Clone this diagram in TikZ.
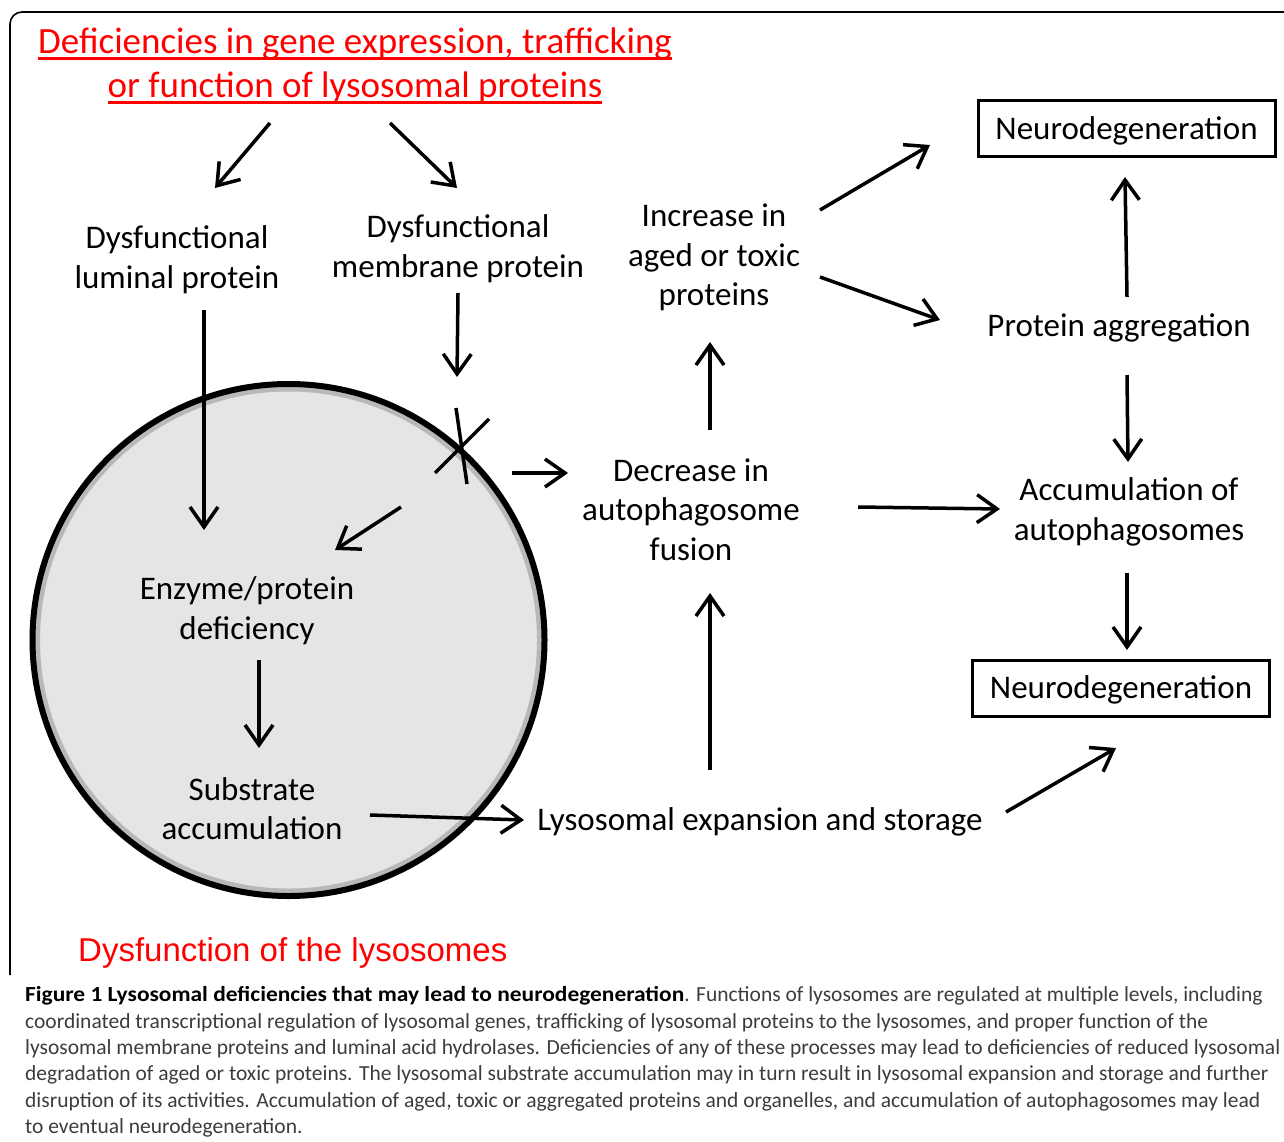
\documentclass[tikz,border=0pt]{standalone}
\usepackage{fontspec}
\setmainfont{Carlito}
\newfontfamily\arialf{Liberation Sans}
\usetikzlibrary{arrows.meta}
\definecolor{redt}{RGB}{255,0,0}
\definecolor{lysofill}{RGB}{229,229,229}
\definecolor{captext}{RGB}{60,60,60}
\newcommand{\redul}[1]{\setbox0\hbox{#1}\rlap{\rule[-6pt]{\wd0}{2.4pt}}\box0}
\begin{document}
\begin{tikzpicture}[x=1pt,y=-1pt,
  lbl/.style={font=\fontsize{33}{39.5}\selectfont, align=center, inner sep=0pt},
  redtitle/.style={font=\fontsize{37}{44}\selectfont, align=center, inner sep=0pt, text=redt},
  ndbox/.style={draw, line width=3pt, font=\fontsize{33}{39.5}\selectfont, minimum width=297pt, minimum height=56pt, inner sep=0pt, text height=25pt, text depth=4pt},
  arr/.style={line width=3.5pt, -{Straight Barb[length=20pt,width=28pt,line width=3.5pt]}},
  cross/.style={line width=3.5pt}
]
\useasboundingbox (0,0) rectangle (1284,1142);
% outer frame (open at right and bottom)
\draw[line width=1.6pt, rounded corners=12pt] (10,975) -- (10,12) -- (1290,12);

% lysosome
\fill[lysofill] (288.5,640) circle (256);
\draw[black!45, line width=5pt, opacity=0.5] (288.5,640) circle (251);
\draw[line width=6pt] (288.5,640) circle (256);

% title
\node[redtitle] (title) at (355,66) {\redul{Deficiencies in gene expression, trafficking}\\\redul{or function of lysosomal proteins}};

% nodes
\node[lbl] (lum) at (177,259.5) {Dysfunctional\\luminal protein};
\node[lbl] (mem) at (458,248.5) {Dysfunctional\\membrane protein};
\node[lbl] (inc) at (714,257.5) {Increase in\\aged or toxic\\proteins};
\node[ndbox] (nd1) at (1126.5,129) {Neurodegeneration};
\node[lbl] (agg) at (1119,328) {Protein aggregation};
\node[lbl] (dec) at (691,509.5) {Decrease in\\autophagosome\\fusion};
\node[lbl] (acc) at (1129,512) {Accumulation of\\autophagosomes};
\node[ndbox] (nd2) at (1121,688) {Neurodegeneration};
\node[lbl] (enz) at (247,610.5) {Enzyme/protein\\deficiency};
\node[lbl] (sub) at (252,808.5) {Substrate\\accumulation};
\node[lbl] (exp) at (760,822) {Lysosomal expansion and storage};
\node[font=\arialf\fontsize{33}{40}\selectfont, text=redt, inner sep=0pt, anchor=west] (dys) at (78,953) {Dysfunction of the lysosomes};

% caption
\node[font=\fontsize{21.5}{26.3}\selectfont, text=captext, align=left, inner sep=0pt, anchor=west] (cap) at (25,1062)
{\textcolor{black}{\textbf{\addfontfeature{FakeStretch=1.09}Figure 1 Lysosomal deficiencies that may lead to neurodegeneration}}. Functions of lysosomes are regulated at multiple levels, including\\
coordinated transcriptional regulation of lysosomal genes, trafficking of lysosomal proteins to the lysosomes, and proper function of the\\
lysosomal membrane proteins and luminal acid hydrolases. Deficiencies of any of these processes may lead to deficiencies of reduced lysosomal\\
degradation of aged or toxic proteins. The lysosomal substrate accumulation may in turn result in lysosomal expansion and storage and further\\
disruption of its activities. Accumulation of aged, toxic or aggregated proteins and organelles, and accumulation of autophagosomes may lead\\
to eventual neurodegeneration.};

% connector end points
\coordinate (a1s) at (270,123); \coordinate (a1e) at (215,188);
\coordinate (a2s) at (390,123); \coordinate (a2e) at (457,188);
\coordinate (a3s) at (204,310); \coordinate (a3e) at (204,530);
\coordinate (a4s) at (458,293); \coordinate (a4e) at (457,377);
\coordinate (x1s) at (456,408); \coordinate (x1e) at (467,484);
\coordinate (x2s) at (435,473); \coordinate (x2e) at (489,419);
\coordinate (a6s) at (512,473); \coordinate (a6e) at (568,473);
\coordinate (a7s) at (401,507); \coordinate (a7e) at (335,550);
\coordinate (a8s) at (259,660); \coordinate (a8e) at (259,748);
\coordinate (a9s) at (370,815); \coordinate (a9e) at (524,820);
\coordinate (a10s) at (710,770); \coordinate (a10e) at (710,593);
\coordinate (a11s) at (710,430); \coordinate (a11e) at (710,342);
\coordinate (a12s) at (820,210); \coordinate (a12e) at (930,145);
\coordinate (a13s) at (820,277); \coordinate (a13e) at (940,320);
\coordinate (a14s) at (1127,297); \coordinate (a14e) at (1125,177);
\coordinate (a15s) at (1127,375); \coordinate (a15e) at (1128,462);
\coordinate (a16s) at (858,507); \coordinate (a16e) at (1000,509);
\coordinate (a17s) at (1127,573); \coordinate (a17e) at (1127,650);
\coordinate (a18s) at (1006,812); \coordinate (a18e) at (1116,748);

\foreach \i in {1,2,3,4,6,7,8,9,10,11,12,13,14,15,16,17,18}
  \draw[arr] (a\i s) -- (a\i e);
\draw[cross] (x1s) -- (x1e);
\draw[cross] (x2s) -- (x2e);
\end{tikzpicture}
\end{document}
